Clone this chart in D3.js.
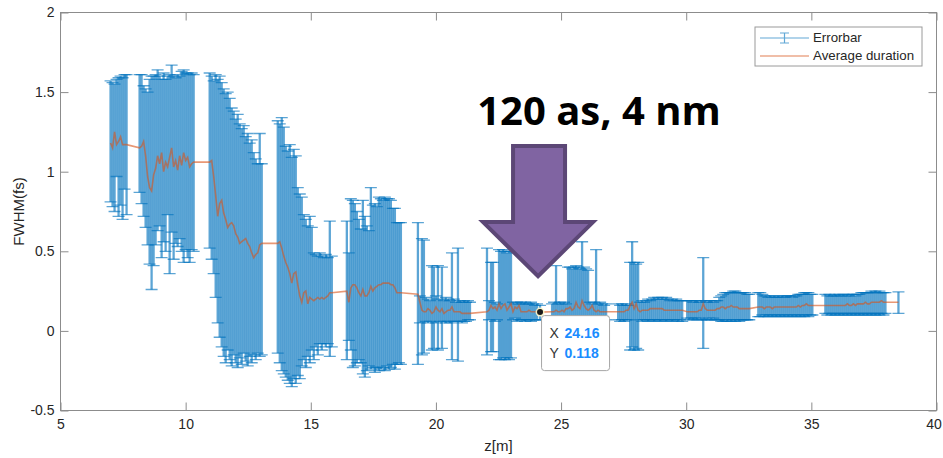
<!DOCTYPE html>
<html>
<head>
<meta charset="utf-8">
<script src="https://cdn.jsdelivr.net/npm/d3@7"></script>
<style>
  body { margin: 0; background: #fff; }
  svg text { font-family: "Liberation Sans", Arial, sans-serif; }
</style>
</head>
<body>
<svg id="chart" width="943" height="458"></svg>
<script>
// Propagation distance z (m) of each sample, grouped by measurement run
const zPos = [
  7.00, 7.08, 7.16, 7.24, 7.32, 7.40, 7.48, 7.56, 7.64,
  8.16, 8.24, 8.32, 8.40, 8.48, 8.56, 8.64, 8.72, 8.80, 8.88, 8.96, 9.04, 9.12, 9.20, 9.28, 9.36, 9.44, 9.52, 9.60, 9.68, 9.76, 9.84, 9.92, 10.00, 10.08, 10.16, 10.24, 10.32,
  10.96, 11.04, 11.12, 11.20, 11.28, 11.36, 11.44, 11.52, 11.60, 11.68, 11.76, 11.84, 11.92, 12.00, 12.08, 12.16, 12.24, 12.32, 12.40, 12.48, 12.56, 12.64, 12.72, 12.80, 12.88, 12.96, 13.04,
  13.68, 13.76, 13.84, 13.92, 14.00, 14.08, 14.16, 14.24, 14.32, 14.40, 14.48, 14.56, 14.64, 14.72, 14.80, 14.88, 14.96, 15.04, 15.12, 15.20, 15.28, 15.36, 15.44, 15.52, 15.60, 15.68, 15.76, 15.84,
  16.44, 16.52, 16.60, 16.68, 16.76, 16.84, 16.92, 17.00, 17.08, 17.16, 17.24, 17.32, 17.40, 17.48, 17.56, 17.64, 17.72, 17.80, 17.88, 17.96, 18.04, 18.12, 18.20, 18.28, 18.36, 18.44, 18.52, 18.60,
  19.28, 19.36, 19.44, 19.52, 19.60, 19.68, 19.76, 19.84, 19.92, 20.00, 20.08, 20.16, 20.24, 20.32, 20.40, 20.48, 20.56, 20.64, 20.72, 20.80, 20.88, 20.96, 21.04, 21.12, 21.20, 21.28, 21.36,
  22.04, 22.12, 22.20, 22.28, 22.36, 22.44, 22.52, 22.60, 22.68, 22.76, 22.84, 22.92, 23.00, 23.08, 23.16, 23.24, 23.32, 23.40, 23.48, 23.56, 23.64, 23.72, 23.80, 23.88, 23.96, 24.04, 24.16,
  24.64, 24.72, 24.80, 24.88, 24.96, 25.04, 25.12, 25.20, 25.28, 25.36, 25.44, 25.52, 25.60, 25.68, 25.76, 25.84, 25.92, 26.00, 26.08, 26.16, 26.24, 26.32, 26.40, 26.48, 26.56, 26.64, 26.72, 26.80,
  27.28, 27.36, 27.44, 27.52, 27.60, 27.68, 27.76, 27.84, 27.92, 28.00, 28.08, 28.16, 28.24, 28.32, 28.40, 28.48, 28.56, 28.64, 28.72, 28.80, 28.88, 28.96, 29.04, 29.12, 29.20, 29.28, 29.36, 29.44, 29.52, 29.60, 29.68, 29.76, 29.84,
  30.04, 30.12, 30.20, 30.28, 30.36, 30.44, 30.52, 30.60, 30.68, 30.76, 30.84, 30.92, 31.00, 31.08, 31.16, 31.24, 31.32, 31.40, 31.48, 31.56, 31.64, 31.72, 31.80, 31.88, 31.96, 32.04, 32.12, 32.20, 32.28, 32.36, 32.44, 32.52,
  32.88, 32.96, 33.04, 33.12, 33.20, 33.28, 33.36, 33.44, 33.52, 33.60, 33.68, 33.76, 33.84, 33.92, 34.00, 34.08, 34.16, 34.24, 34.32, 34.40, 34.48, 34.56, 34.64, 34.72, 34.80, 34.88, 34.96, 35.04,
  35.56, 35.64, 35.72, 35.80, 35.88, 35.96, 36.04, 36.12, 36.20, 36.28, 36.36, 36.44, 36.52, 36.60, 36.68, 36.76, 36.84, 36.92, 37.00, 37.08, 37.16, 37.24, 37.32, 37.40, 37.48, 37.56, 37.64, 37.72, 37.80, 37.88, 37.96,
  38.48
];

// Upper end of each error bar, FWHM (fs)
const upperLimit = [
  1.57, 1.56, 1.55, 1.58, 1.59, 1.60, 1.59, 1.61, 1.61,
  1.61, 1.61, 1.54, 1.52, 1.50, 1.58, 1.60, 1.60, 1.61, 1.64, 1.60, 1.58, 1.62, 1.58, 1.60, 1.61, 1.67, 1.60, 1.59, 1.61, 1.60, 1.63, 1.64, 1.62, 1.62, 1.61, 1.62, 1.61,
  1.62, 1.60, 1.57, 1.61, 1.58, 1.60, 1.56, 1.52, 1.49, 1.50, 1.46, 1.40, 1.38, 1.33, 1.36, 1.30, 1.27, 1.29, 1.22, 1.24, 1.18, 1.20, 1.12, 1.08, 1.05, 1.24, 1.05,
  1.32, 1.30, 1.34, 1.28, 1.16, 1.13, 1.17, 1.09, 1.14, 1.10, 0.90, 0.86, 0.84, 0.73, 0.70, 0.66, 0.72, 0.65, 0.49, 0.48, 0.47, 0.49, 0.47, 0.46, 0.48, 0.46, 0.69, 0.47,
  0.69, 0.49, 0.83, 0.82, 0.80, 0.75, 0.70, 0.64, 0.82, 0.72, 0.66, 0.63, 0.90, 0.79, 0.80, 0.78, 0.84, 0.83, 0.82, 0.84, 0.83, 0.83, 0.82, 0.77, 0.77, 0.68, 0.68, 0.68,
  0.68, 0.22, 0.58, 0.57, 0.21, 0.20, 0.19, 0.41, 0.40, 0.22, 0.41, 0.20, 0.40, 0.19, 0.21, 0.20, 0.19, 0.49, 0.20, 0.18, 0.52, 0.19, 0.18, 0.19, 0.18, 0.19, 0.18,
  0.52, 0.19, 0.43, 0.43, 0.18, 0.17, 0.51, 0.50, 0.51, 0.50, 0.49, 0.50, 0.50, 0.18, 0.17, 0.18, 0.17, 0.18, 0.17, 0.18, 0.17, 0.17, 0.18, 0.17, 0.16, 0.17, 0.16,
  0.17, 0.18, 0.41, 0.17, 0.18, 0.17, 0.18, 0.17, 0.40, 0.40, 0.39, 0.40, 0.41, 0.40, 0.39, 0.56, 0.40, 0.39, 0.38, 0.18, 0.17, 0.18, 0.51, 0.17, 0.18, 0.17, 0.16, 0.17,
  0.17, 0.16, 0.17, 0.16, 0.17, 0.16, 0.43, 0.56, 0.43, 0.42, 0.43, 0.18, 0.19, 0.18, 0.19, 0.20, 0.19, 0.20, 0.21, 0.20, 0.21, 0.20, 0.21, 0.20, 0.21, 0.20, 0.19, 0.20, 0.19, 0.20, 0.19, 0.19, 0.19,
  0.19, 0.19, 0.19, 0.18, 0.19, 0.19, 0.18, 0.19, 0.46, 0.19, 0.18, 0.19, 0.19, 0.18, 0.19, 0.19, 0.21, 0.22, 0.23, 0.24, 0.24, 0.24, 0.24, 0.25, 0.25, 0.24, 0.24, 0.24, 0.24, 0.24, 0.23, 0.23,
  0.24, 0.24, 0.23, 0.22, 0.22, 0.21, 0.22, 0.21, 0.22, 0.21, 0.22, 0.21, 0.22, 0.21, 0.22, 0.22, 0.22, 0.21, 0.22, 0.22, 0.23, 0.23, 0.23, 0.24, 0.24, 0.24, 0.23, 0.23,
  0.23, 0.22, 0.23, 0.22, 0.22, 0.23, 0.22, 0.23, 0.22, 0.23, 0.22, 0.23, 0.22, 0.23, 0.23, 0.22, 0.23, 0.23, 0.24, 0.24, 0.24, 0.24, 0.24, 0.25, 0.24, 0.25, 0.24, 0.25, 0.24, 0.24, 0.24,
  0.245
];

// Lower end of each error bar, FWHM (fs)
const lowerLimit = [
  0.81, 0.78, 0.75, 0.97, 0.72, 0.79, 0.70, 0.89, 0.73,
  0.87, 0.80, 0.72, 0.65, 0.54, 0.42, 0.26, 0.41, 0.54, 0.63, 0.66, 0.46, 0.56, 0.50, 0.73, 0.36, 0.62, 0.45, 0.55, 0.53, 0.58, 0.50, 0.43, 0.51, 0.46, 0.43, 0.51, 0.50,
  0.52, 0.45, 0.36, 0.21, 0.05, -0.04, -0.10, -0.16, -0.20, -0.12, -0.18, -0.22, -0.15, -0.20, -0.23, -0.17, -0.21, -0.14, -0.19, -0.22, -0.16, -0.20, -0.15, -0.18, -0.14, -0.16, -0.15,
  -0.14, -0.20, -0.25, -0.27, -0.29, -0.31, -0.33, -0.35, -0.30, -0.33, -0.28, -0.30, -0.22, -0.18, -0.23, -0.16, -0.20, -0.12, -0.18, -0.10, -0.15, -0.08, -0.12, -0.08, -0.10, -0.08, -0.16, -0.10,
  -0.18, -0.06, -0.12, -0.23, -0.22, -0.20, -0.18, -0.20, -0.27, -0.29, -0.25, -0.22, -0.24, -0.23, -0.26, -0.23, -0.25, -0.24, -0.23, -0.25, -0.22, -0.24, -0.23, -0.21, -0.24, -0.21, -0.20, -0.21,
  -0.21, 0.05, -0.15, -0.14, 0.06, 0.05, 0.06, -0.12, -0.11, 0.05, -0.12, 0.06, -0.11, 0.06, 0.05, 0.06, 0.05, -0.18, 0.06, 0.06, -0.19, 0.06, 0.05, 0.06, 0.06, 0.07, 0.07,
  -0.15, 0.07, -0.13, -0.13, 0.06, 0.07, -0.18, -0.18, -0.17, -0.18, -0.17, -0.18, -0.17, 0.07, 0.08, 0.06, 0.07, 0.07, 0.07, 0.06, 0.07, 0.07, 0.06, 0.07, 0.07, 0.07, 0.07,
  0.06, 0.07, 0.06, 0.07, 0.06, 0.07, 0.06, 0.07, 0.06, 0.06, 0.07, 0.06, 0.06, 0.06, 0.07, 0.06, 0.06, 0.07, 0.06, 0.07, 0.06, 0.07, 0.06, 0.07, 0.06, 0.07, 0.06, 0.07,
  0.07, 0.06, 0.07, 0.06, 0.07, 0.07, -0.12, -0.10, -0.12, -0.11, -0.12, 0.07, 0.06, 0.07, 0.07, 0.06, 0.07, 0.07, 0.06, 0.07, 0.07, 0.06, 0.07, 0.07, 0.06, 0.07, 0.07, 0.06, 0.07, 0.07, 0.06, 0.07, 0.06,
  0.08, 0.07, 0.08, 0.07, 0.08, 0.07, 0.08, 0.07, -0.11, 0.07, 0.07, 0.08, 0.07, 0.08, 0.07, 0.07, 0.07, 0.06, 0.06, 0.07, 0.06, 0.07, 0.06, 0.07, 0.06, 0.07, 0.06, 0.07, 0.07, 0.07, 0.07, 0.07,
  0.09, 0.09, 0.10, 0.09, 0.10, 0.09, 0.10, 0.09, 0.10, 0.09, 0.10, 0.09, 0.10, 0.09, 0.10, 0.09, 0.10, 0.09, 0.10, 0.09, 0.10, 0.09, 0.10, 0.09, 0.10, 0.09, 0.10, 0.10,
  0.11, 0.10, 0.11, 0.10, 0.11, 0.10, 0.11, 0.10, 0.11, 0.10, 0.11, 0.10, 0.11, 0.10, 0.11, 0.10, 0.11, 0.10, 0.11, 0.10, 0.11, 0.10, 0.11, 0.10, 0.11, 0.10, 0.11, 0.10, 0.11, 0.10, 0.11,
  0.11
];

// Average pulse duration, FWHM (fs)
const avgDuration = [
  1.18, 1.15, 1.25, 1.17, 1.19, 1.22, 1.17, 1.17, 1.17,
  1.15, 1.16, 1.19, 1.10, 0.97, 0.90, 0.88, 0.98, 1.02, 1.10, 1.05, 1.12, 1.00, 1.06, 1.03, 1.09, 1.15, 1.03, 1.07, 1.01, 1.10, 1.04, 1.12, 1.07, 1.09, 1.03, 1.05, 1.06,
  1.06, 1.07, 0.97, 0.85, 0.72, 0.80, 0.82, 0.74, 0.70, 0.65, 0.67, 0.68, 0.66, 0.61, 0.59, 0.55, 0.56, 0.57, 0.58, 0.55, 0.53, 0.49, 0.46, 0.48, 0.49, 0.54, 0.55,
  0.55, 0.56, 0.52, 0.47, 0.43, 0.40, 0.36, 0.30, 0.36, 0.37, 0.29, 0.22, 0.18, 0.24, 0.25, 0.17, 0.21, 0.20, 0.19, 0.20, 0.21, 0.20, 0.21, 0.20, 0.21, 0.22, 0.24, 0.24,
  0.25, 0.18, 0.27, 0.29, 0.29, 0.27, 0.24, 0.22, 0.26, 0.22, 0.22, 0.24, 0.28, 0.25, 0.27, 0.28, 0.29, 0.29, 0.30, 0.30, 0.30, 0.30, 0.29, 0.29, 0.27, 0.24, 0.24, 0.24,
  0.23, 0.18, 0.13, 0.12, 0.12, 0.14, 0.13, 0.11, 0.12, 0.15, 0.13, 0.12, 0.14, 0.11, 0.12, 0.13, 0.13, 0.15, 0.12, 0.12, 0.12, 0.12, 0.11, 0.11, 0.11, 0.11, 0.11,
  0.12, 0.13, 0.16, 0.14, 0.15, 0.13, 0.17, 0.14, 0.16, 0.17, 0.13, 0.15, 0.17, 0.12, 0.15, 0.14, 0.16, 0.12, 0.12, 0.12, 0.12, 0.13, 0.12, 0.12, 0.12, 0.12, 0.118,
  0.12, 0.12, 0.13, 0.12, 0.12, 0.13, 0.12, 0.14, 0.14, 0.15, 0.13, 0.14, 0.18, 0.15, 0.14, 0.19, 0.16, 0.14, 0.13, 0.14, 0.16, 0.13, 0.12, 0.13, 0.12, 0.12, 0.12, 0.12,
  0.12, 0.12, 0.12, 0.12, 0.13, 0.13, 0.16, 0.18, 0.14, 0.17, 0.13, 0.12, 0.13, 0.13, 0.13, 0.13, 0.14, 0.14, 0.14, 0.14, 0.14, 0.14, 0.14, 0.13, 0.13, 0.13, 0.13, 0.13, 0.13, 0.13, 0.13, 0.13, 0.13,
  0.12, 0.12, 0.12, 0.12, 0.12, 0.12, 0.13, 0.13, 0.17, 0.14, 0.13, 0.13, 0.13, 0.13, 0.13, 0.14, 0.14, 0.15, 0.15, 0.14, 0.15, 0.15, 0.16, 0.15, 0.15, 0.15, 0.14, 0.14, 0.14, 0.14, 0.14, 0.14,
  0.15, 0.15, 0.15, 0.14, 0.15, 0.15, 0.15, 0.14, 0.15, 0.15, 0.15, 0.15, 0.15, 0.15, 0.15, 0.15, 0.15, 0.15, 0.15, 0.15, 0.16, 0.15, 0.16, 0.16, 0.17, 0.16, 0.16, 0.16,
  0.16, 0.16, 0.16, 0.16, 0.16, 0.16, 0.16, 0.16, 0.16, 0.16, 0.16, 0.17, 0.16, 0.16, 0.17, 0.16, 0.17, 0.17, 0.17, 0.17, 0.18, 0.17, 0.17, 0.18, 0.18, 0.18, 0.18, 0.18, 0.19, 0.18, 0.18,
  0.18
];

const xTicks = [5, 10, 15, 20, 25, 30, 35, 40];
const yTicks = [-0.5, 0, 0.5, 1, 1.5, 2];
const yTickLabels = ['-0.5', '0', '0.5', '1', '1.5', '2'];
const legendLabels = ['Errorbar', 'Average duration'];
const annotationText = '120 as, 4 nm';
const datatipZ = 24.16;

const W = 943, H = 458;
const plot = { left: 60.5, right: 936.5, top: 12.5, bottom: 410.5 };
const axisColor = '#8c8c8c';
const textColor = '#262626';
const barColor = '#0072BD';
const lineColor = '#D95319';

const svg = d3.select('#chart');
svg.append('rect').attr('width', W).attr('height', H).attr('fill', '#fff');

const x = d3.scaleLinear().domain([5, 40]).range([plot.left, plot.right]);
const y = d3.scaleLinear().domain([-0.5, 2]).range([plot.bottom, plot.top]);

const samples = zPos.map((z, i) => ({
  z, hi: upperLimit[i], lo: lowerLimit[i], avg: avgDuration[i]
}));

// axes frame and inward ticks on all four sides
const tickLen = 8;
function styleAxis(g) {
  g.select('.domain').remove();
  g.selectAll('.tick line').attr('stroke', axisColor);
  g.selectAll('.tick text')
    .attr('fill', textColor)
    .style('font-size', '14px');
}
svg.append('g')
  .attr('transform', `translate(0,${plot.bottom})`)
  .call(d3.axisBottom(x).tickValues(xTicks).tickSizeInner(-tickLen).tickSizeOuter(0).tickPadding(9).tickFormat(d3.format('d')))
  .call(styleAxis)
  .call(g => g.selectAll('.tick:last-of-type text').attr('dx', '-3'));
svg.append('g')
  .attr('transform', `translate(0,${plot.top})`)
  .call(d3.axisTop(x).tickValues(xTicks).tickSizeInner(-tickLen).tickSizeOuter(0).tickFormat(''))
  .call(styleAxis);
svg.append('g')
  .attr('transform', `translate(${plot.left},0)`)
  .call(d3.axisLeft(y).tickValues(yTicks).tickSizeInner(-tickLen).tickSizeOuter(0).tickPadding(6)
    .tickFormat((d, i) => yTickLabels[i]))
  .call(styleAxis);
svg.append('g')
  .attr('transform', `translate(${plot.right},0)`)
  .call(d3.axisRight(y).tickValues(yTicks).tickSizeInner(-tickLen).tickSizeOuter(0).tickFormat(''))
  .call(styleAxis);

svg.append('rect')
  .attr('x', plot.left).attr('y', plot.top)
  .attr('width', plot.right - plot.left).attr('height', plot.bottom - plot.top)
  .attr('fill', 'none').attr('stroke', axisColor).attr('stroke-width', 1);

// axis titles
svg.append('text')
  .attr('x', (plot.left + plot.right) / 2).attr('y', 451)
  .attr('text-anchor', 'middle').attr('fill', textColor)
  .style('font-size', '15px').text('z[m]');
svg.append('text')
  .attr('transform', `translate(24,${(plot.top + plot.bottom) / 2}) rotate(-90)`)
  .attr('text-anchor', 'middle').attr('fill', textColor)
  .style('font-size', '15px').text('FWHM(fs)');

// error bars: vertical spans, then the thinner caps
const cap = 6;
const bars = svg.append('g');
bars.selectAll('path.span')
  .data(samples).join('path')
  .attr('class', 'span')
  .attr('d', d => `M${x(d.z)},${y(d.hi)}V${y(d.lo)}`)
  .attr('fill', 'none')
  .attr('stroke', barColor)
  .attr('stroke-width', 2.3)
  .attr('stroke-opacity', 0.64);
bars.selectAll('path.cap')
  .data(samples).join('path')
  .attr('class', 'cap')
  .attr('d', d => {
    const cx = x(d.z), yh = y(d.hi), yl = y(d.lo);
    return `M${cx - cap},${yh}H${cx + cap}M${cx - cap},${yl}H${cx + cap}`;
  })
  .attr('fill', 'none')
  .attr('stroke', barColor)
  .attr('stroke-width', 1.3)
  .attr('stroke-opacity', 0.64);

// average duration line
svg.append('path')
  .datum(samples)
  .attr('d', d3.line().x(d => x(d.z)).y(d => y(d.avg)))
  .attr('fill', 'none')
  .attr('stroke', lineColor)
  .attr('stroke-width', 1.6)
  .attr('stroke-opacity', 0.6);

// legend
const lg = svg.append('g').attr('transform', 'translate(755,27)');
lg.append('rect').attr('width', 167).attr('height', 39)
  .attr('fill', '#fff').attr('stroke', '#9a9a9a').attr('stroke-width', 1);
lg.append('path').attr('d', 'M5,11H54M29.5,6V16M25,6H34M25,16H34')
  .attr('stroke', barColor).attr('stroke-opacity', 0.62).attr('stroke-width', 1.2).attr('fill', 'none');
lg.append('path').attr('d', 'M5,29H54')
  .attr('stroke', lineColor).attr('stroke-opacity', 0.5).attr('stroke-width', 1.6);
lg.selectAll('text.lt').data(legendLabels).join('text')
  .attr('class', 'lt')
  .attr('x', 58).attr('y', (d, i) => 15 + i * 18)
  .attr('fill', textColor).style('font-size', '13.3px')
  .text(d => d);

// data tip at the marked sample
const tip = samples.find(d => d.z === datatipZ);
const tx = x(tip.z), ty = y(tip.avg);
svg.append('circle').attr('cx', tx).attr('cy', ty).attr('r', 4.5)
  .attr('fill', '#fff7c8').attr('opacity', 0.9);
svg.append('circle').attr('cx', tx).attr('cy', ty).attr('r', 3)
  .attr('fill', '#1a1a1a');
const tg = svg.append('g').attr('transform', `translate(${tx + 1.5},${ty + 3.5})`);
tg.append('rect').attr('width', 68).attr('height', 55).attr('rx', 3)
  .attr('fill', '#fff').attr('stroke', '#a6a6a6').attr('stroke-width', 1);
const tipRows = [['X', d3.format('.2f')(tip.z)], ['Y', d3.format('.3f')(tip.avg)]];
tipRows.forEach((r, i) => {
  const t = tg.append('text').attr('x', 8).attr('y', 22 + i * 20).style('font-size', '14px');
  t.append('tspan').attr('fill', '#333').text(r[0]);
  t.append('tspan').attr('x', 23).attr('fill', '#1a8cff').attr('font-weight', 'bold').text(r[1]);
});

// highlight arrow pointing down at the data tip
const ax = tx - 2, tipY = ty - 36;
const arrowPts = [
  [ax - 25, tipY - 130], [ax + 27, tipY - 130], [ax + 27, tipY - 54], [ax + 55, tipY - 54],
  [ax, tipY], [ax - 55, tipY - 54], [ax - 25, tipY - 54]
];
svg.append('polygon')
  .attr('points', arrowPts.map(p => p.join(',')).join(' '))
  .attr('fill', '#8064A2').attr('stroke', '#5C4776').attr('stroke-width', 4)
  .attr('stroke-linejoin', 'miter');

svg.append('text')
  .attr('x', 599).attr('y', 125)
  .attr('text-anchor', 'middle')
  .style('font-family', '"Open Sans", "Liberation Sans", sans-serif')
  .style('font-weight', 'bold').style('font-size', '40px')
  .attr('fill', '#000')
  .text(annotationText);
</script>
</body>
</html>
